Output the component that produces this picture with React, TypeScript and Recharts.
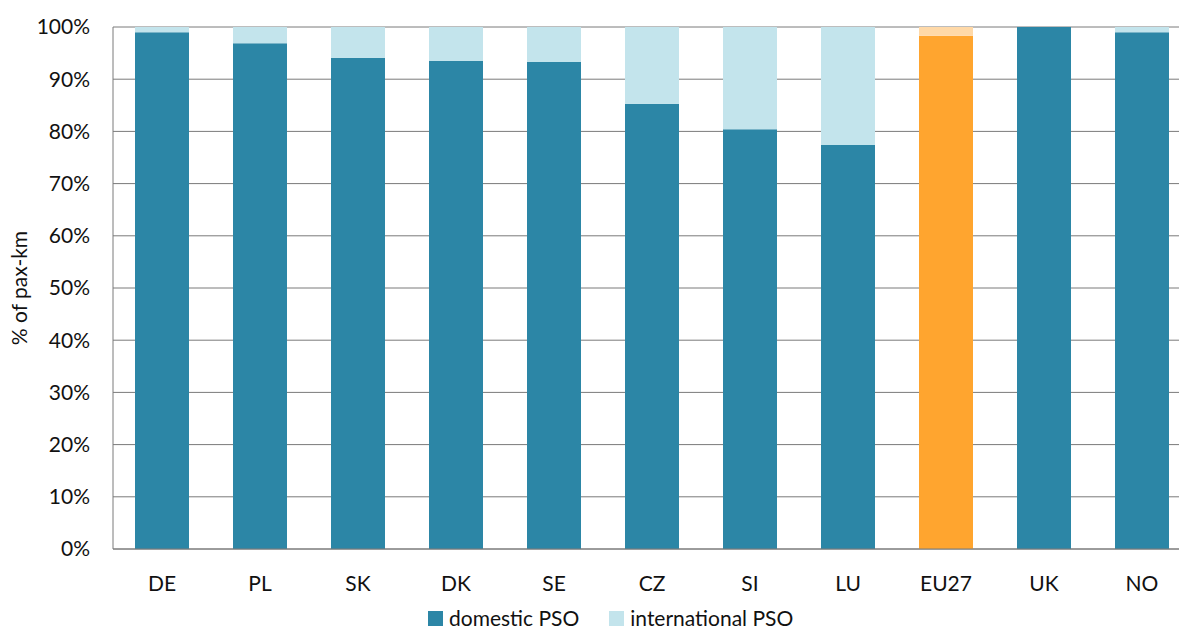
import { BarChart, Bar, XAxis, YAxis, CartesianGrid, Legend, Cell } from 'recharts';

const countries = ['DE', 'PL', 'SK', 'DK', 'SE', 'CZ', 'SI', 'LU', 'EU27', 'UK', 'NO'];
const domesticPso = [99.0, 96.9, 94.1, 93.5, 93.3, 85.3, 80.4, 77.4, 98.3, 100, 99.0];
const internationalPso = [1.0, 3.1, 5.9, 6.5, 6.7, 14.7, 19.6, 22.6, 1.7, 0, 1.0];
const yTicks = [0, 10, 20, 30, 40, 50, 60, 70, 80, 90, 100];

const DOMESTIC = '#2C86A6';
const INTERNATIONAL = '#C3E4EC';
const EU_DOMESTIC = '#FFA52F';
const EU_INTERNATIONAL = '#FFD9A8';
const FONT = 'Lato, "Open Sans", sans-serif';

const data = countries.map((country, i) => ({
  country,
  domestic: domesticPso[i],
  international: internationalPso[i],
}));

const legendItems = [
  { label: 'domestic PSO', color: DOMESTIC },
  { label: 'international PSO', color: INTERNATIONAL },
];

const renderLegend = () => (
  <div style={{ display: 'flex', paddingLeft: 428, fontFamily: FONT, fontSize: 21, lineHeight: '24px', color: '#111' }}>
    {legendItems.map((item) => (
      <div key={item.label} style={{ display: 'flex', alignItems: 'center', marginRight: 30 }}>
        <span style={{ width: 15, height: 15, background: item.color, marginRight: 6, display: 'inline-block' }} />
        <span>{item.label}</span>
      </div>
    ))}
  </div>
);

export default function App() {
  return (
    <div style={{ position: 'absolute', left: 0, top: 0, width: 1179, height: 630, overflow: 'hidden', background: '#fff' }}>
      <BarChart
        width={1191}
        height={630}
        data={data}
        margin={{ top: 27, right: 0, bottom: 0, left: 0 }}
      >
        <CartesianGrid vertical={false} stroke="#7a7a7a" />
        <XAxis
          dataKey="country"
          height={57}
          tickLine={false}
          tickSize={0}
          tickMargin={27}
          axisLine={{ stroke: '#7a7a7a' }}
          tick={{ fill: '#111', fontSize: 21, fontFamily: FONT }}
          interval={0}
        />
        <YAxis
          width={113}
          domain={[0, 100]}
          ticks={yTicks}
          tickFormatter={(v: number) => `${v}%`}
          tickLine={false}
          tickSize={0}
          tickMargin={23}
          axisLine={{ stroke: '#7a7a7a' }}
          tick={{ fill: '#111', fontSize: 21, fontFamily: FONT }}
          label={{
            value: '% of pax-km',
            angle: -90,
            position: 'insideLeft',
            offset: 20,
            style: { textAnchor: 'middle', fill: '#111', fontSize: 21, fontFamily: FONT },
          }}
        />
        <Legend verticalAlign="bottom" height={24} content={renderLegend} />
        <Bar dataKey="domestic" stackId="a" barSize={54} fill={DOMESTIC} isAnimationActive={false}>
          {data.map((d) => (
            <Cell key={d.country} fill={d.country === 'EU27' ? EU_DOMESTIC : DOMESTIC} />
          ))}
        </Bar>
        <Bar dataKey="international" stackId="a" barSize={54} fill={INTERNATIONAL} isAnimationActive={false}>
          {data.map((d) => (
            <Cell key={d.country} fill={d.country === 'EU27' ? EU_INTERNATIONAL : INTERNATIONAL} />
          ))}
        </Bar>
      </BarChart>
    </div>
  );
}
